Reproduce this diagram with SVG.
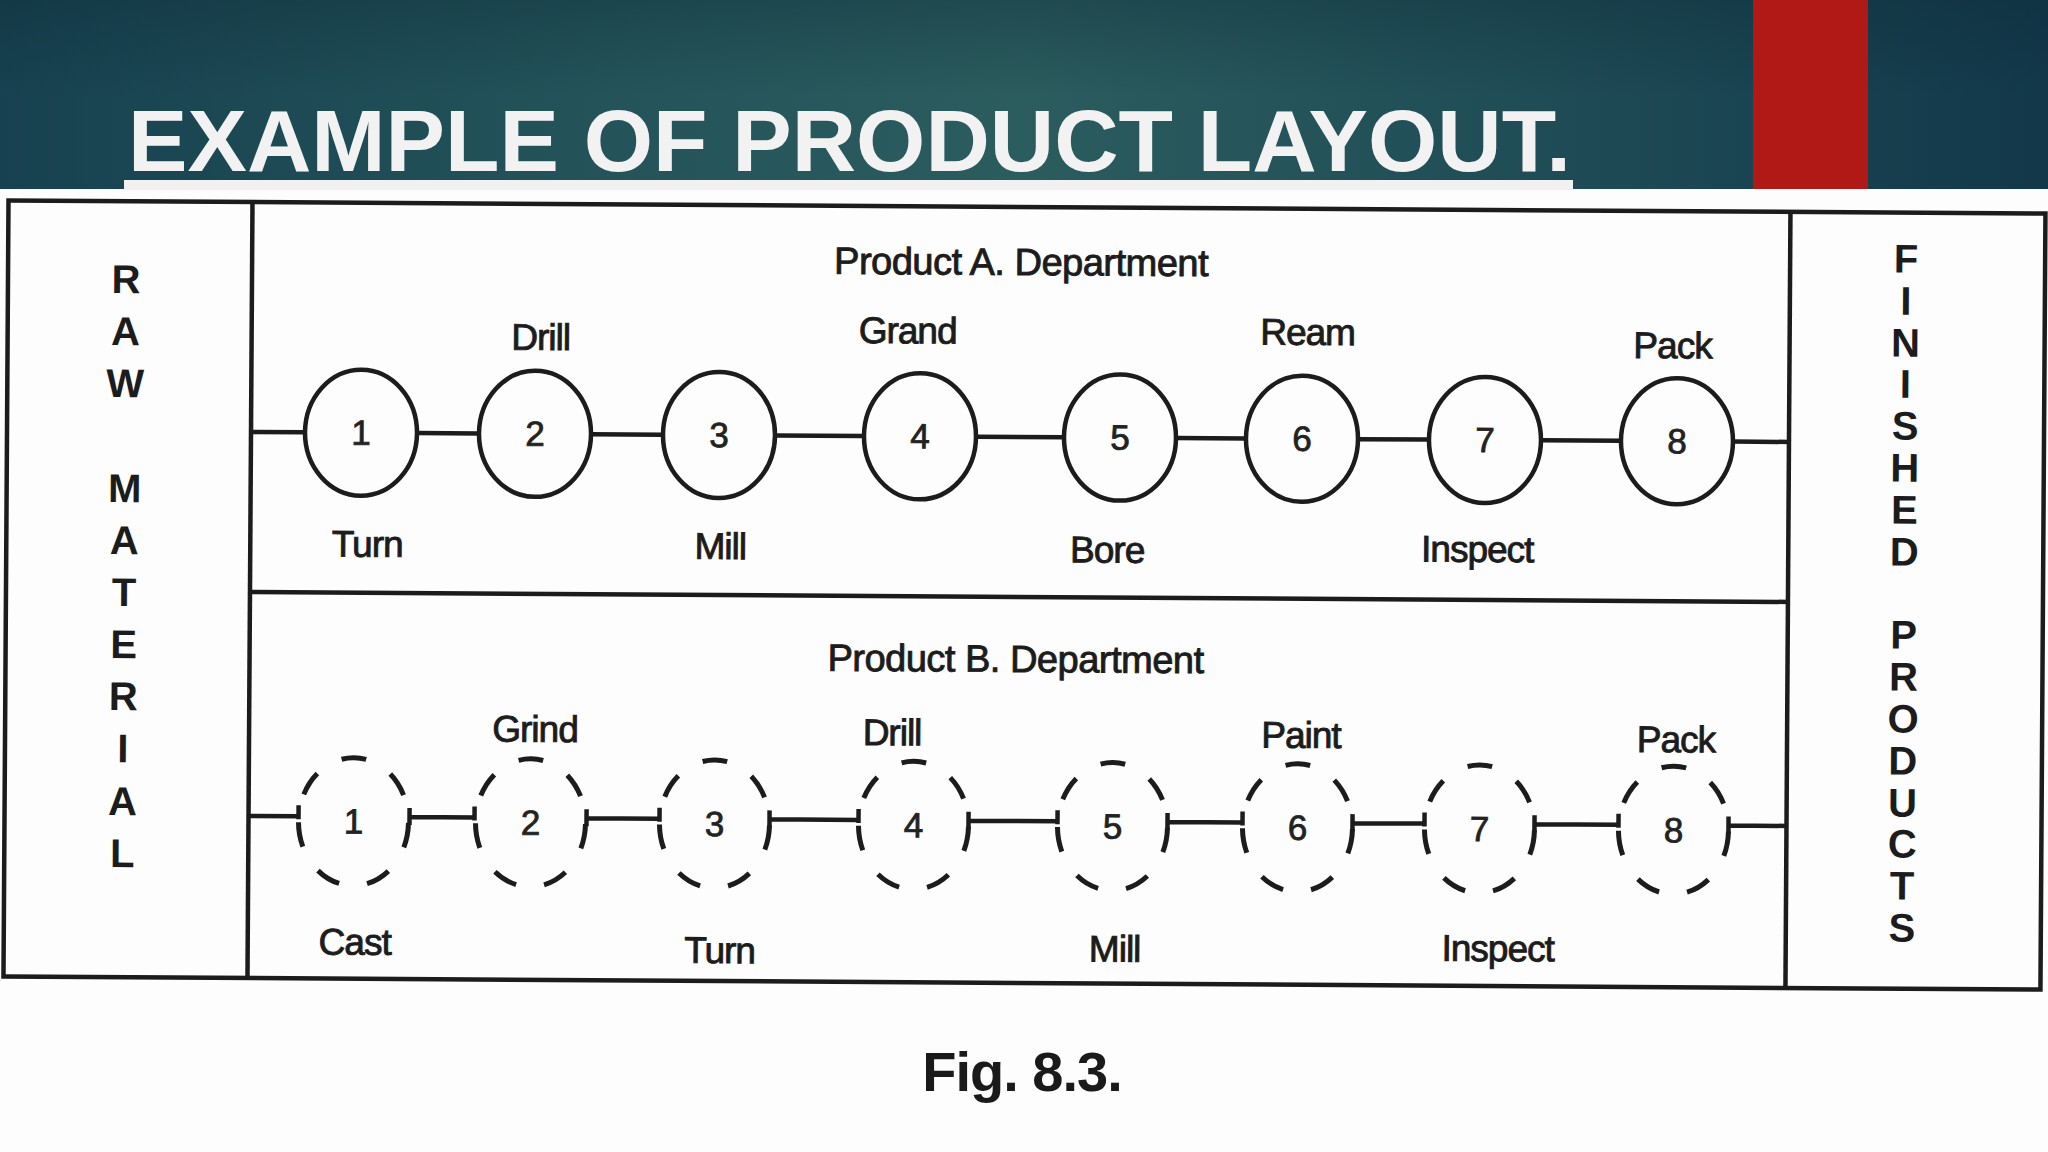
<svg xmlns="http://www.w3.org/2000/svg" width="2048" height="1152" viewBox="0 0 2048 1152">
  <defs>
    <linearGradient id="hdr" x1="0" y1="0" x2="1" y2="0">
      <stop offset="0" stop-color="#174150"/>
      <stop offset="0.3" stop-color="#24545a"/>
      <stop offset="0.5" stop-color="#2b5c5e"/>
      <stop offset="0.75" stop-color="#1f4c56"/>
      <stop offset="1" stop-color="#12384a"/>
    </linearGradient>
    <linearGradient id="hdrV" x1="0" y1="0" x2="0" y2="1">
      <stop offset="0" stop-color="#0c2a36" stop-opacity="0.35"/>
      <stop offset="0.5" stop-color="#0c2a36" stop-opacity="0"/>
    </linearGradient>
    <style>
      .ln{stroke:#1c1c1c;stroke-width:4.5;fill:none}
      .sA{stroke:#1c1c1c;stroke-width:4.5;fill:none}
      .sB{stroke:#1c1c1c;stroke-width:5;fill:none;stroke-dasharray:24 27.43;stroke-dashoffset:50.57}
      .num{font-family:"Liberation Sans",Arial,sans-serif;font-size:35px;fill:#222;stroke:#222;stroke-width:0.8;text-anchor:middle}
      .lbl{font-family:"Liberation Sans",Arial,sans-serif;font-size:37px;fill:#1c1c1c;stroke:#1c1c1c;stroke-width:0.9;text-anchor:middle;letter-spacing:-1px}
      .dep{font-family:"Liberation Sans",Arial,sans-serif;font-size:38px;fill:#1c1c1c;stroke:#1c1c1c;stroke-width:0.9;text-anchor:middle;letter-spacing:-0.5px}
      .vert{font-family:"Liberation Sans",Arial,sans-serif;font-size:40px;font-weight:bold;fill:#1c1c1c;text-anchor:middle}
    </style>
  </defs>

  <rect x="0" y="0" width="2048" height="1152" fill="#fdfdfd"/>

  <!-- header -->
  <g id="header">
    <rect x="0" y="0" width="2048" height="189" fill="url(#hdr)"/>
    <rect x="0" y="0" width="2048" height="189" fill="url(#hdrV)"/>
    <rect x="1753" y="0" width="115" height="189" fill="#b01916"/>
    <rect x="124" y="180" width="1449" height="10" fill="#f1f1f1"/>
    <text x="128" y="171" font-family="'Liberation Sans',Arial,sans-serif" font-size="88" font-weight="bold" fill="#f2f2f2" textLength="1443" lengthAdjust="spacingAndGlyphs">EXAMPLE OF PRODUCT LAYOUT.</text>
  </g>

  <g id="diagram" transform="rotate(0.37 1024 590)">
    <!-- frame -->
    <g id="frame">
      <rect class="ln" x="6" y="207" width="2037" height="776" stroke-width="5"/>
      <line class="ln" x1="250" y1="207" x2="250" y2="983"/>
      <line class="ln" x1="1788" y1="207" x2="1788" y2="983"/>
      <line class="ln" x1="250" y1="597" x2="1788" y2="597" stroke-width="5"/>
    </g>

    <g id="raw-material">
      <text class="vert"><tspan x="124" y="299">R</tspan><tspan x="124" y="351">A</tspan><tspan x="124" y="403">W</tspan><tspan x="124" y="508">M</tspan><tspan x="124" y="560">A</tspan><tspan x="124" y="612">T</tspan><tspan x="124" y="664">E</tspan><tspan x="124" y="716">R</tspan><tspan x="124" y="768">I</tspan><tspan x="124" y="821">A</tspan><tspan x="124" y="873">L</tspan></text>
    </g>

    <g id="finished-products">
      <text class="vert"><tspan x="1904" y="267">F</tspan><tspan x="1904" y="309">I</tspan><tspan x="1904" y="351">N</tspan><tspan x="1904" y="392">I</tspan><tspan x="1904" y="434">S</tspan><tspan x="1904" y="476">H</tspan><tspan x="1904" y="518">E</tspan><tspan x="1904" y="560">D</tspan><tspan x="1904" y="643">P</tspan><tspan x="1904" y="685">R</tspan><tspan x="1904" y="727">O</tspan><tspan x="1904" y="769">D</tspan><tspan x="1904" y="811">U</tspan><tspan x="1904" y="852">C</tspan><tspan x="1904" y="894">T</tspan><tspan x="1904" y="936">S</tspan></text>
    </g>

    <text class="dep" x="1019" y="275">Product A. Department</text>
    <text class="dep" x="1016" y="672">Product B. Department</text>

    <!-- connectors -->
    <g id="connectors">
      <g id="lineA" class="ln" stroke-width="5">
        <line x1="250" y1="437" x2="304" y2="437"/>
        <line x1="416" y1="437" x2="478" y2="437"/>
        <line x1="590" y1="437" x2="662" y2="437"/>
        <line x1="774" y1="437" x2="863" y2="437"/>
        <line x1="975" y1="437" x2="1063" y2="437"/>
        <line x1="1175" y1="437" x2="1245" y2="437"/>
        <line x1="1357" y1="437" x2="1428" y2="437"/>
        <line x1="1540" y1="437" x2="1620" y2="437"/>
        <line x1="1732" y1="437" x2="1788" y2="437"/>
      </g>
      <g id="lineB" class="ln" stroke-width="4.5">
        <path d="M250 821H300M300 810V824"/>
        <path d="M411 812V829M411 821H476M476 810V824"/>
        <path d="M588 812V829M588 821H661M661 810V824"/>
        <path d="M771 812V829M771 821H860M860 810V824"/>
        <path d="M970 812V829M970 821H1059M1059 810V824"/>
        <path d="M1169 812V829M1169 821H1244M1244 810V824"/>
        <path d="M1354 812V829M1354 821H1426M1426 810V824"/>
        <path d="M1536 812V829M1536 821H1620M1620 810V824"/>
        <path d="M1730 812V829M1730 821H1788"/>
      </g>
    </g>

    <!-- Product A nodes -->
    <g id="A1"><ellipse class="sA" cx="360" cy="437" rx="56" ry="63"/><text class="num" x="360" y="449">1</text><text class="lbl" x="367" y="561">Turn</text></g>
    <g id="A2"><ellipse class="sA" cx="534" cy="437" rx="56" ry="63"/><text class="num" x="534" y="449">2</text><text class="lbl" x="539" y="353">Drill</text></g>
    <g id="A3"><ellipse class="sA" cx="718" cy="437" rx="56" ry="63"/><text class="num" x="718" y="449">3</text><text class="lbl" x="720" y="561">Mill</text></g>
    <g id="A4"><ellipse class="sA" cx="919" cy="437" rx="56" ry="63"/><text class="num" x="919" y="449">4</text><text class="lbl" x="906" y="344">Grand</text></g>
    <g id="A5"><ellipse class="sA" cx="1119" cy="437" rx="56" ry="63"/><text class="num" x="1119" y="449">5</text><text class="lbl" x="1107" y="562">Bore</text></g>
    <g id="A6"><ellipse class="sA" cx="1301" cy="437" rx="56" ry="63"/><text class="num" x="1301" y="449">6</text><text class="lbl" x="1306" y="343">Ream</text></g>
    <g id="A7"><ellipse class="sA" cx="1484" cy="437" rx="56" ry="63"/><text class="num" x="1484" y="449">7</text><text class="lbl" x="1477" y="559">Inspect</text></g>
    <g id="A8"><ellipse class="sA" cx="1676" cy="437" rx="56" ry="63"/><text class="num" x="1676" y="449">8</text><text class="lbl" x="1671" y="354">Pack</text></g>

    <!-- Product B nodes -->
    <g id="B1"><ellipse class="sB" pathLength="360" cx="355" cy="826" rx="55" ry="64"/><text class="num" x="355" y="838">1</text><text class="lbl" x="357" y="959">Cast</text></g>
    <g id="B2"><ellipse class="sB" pathLength="360" cx="532" cy="826" rx="55" ry="64"/><text class="num" x="532" y="838">2</text><text class="lbl" x="536" y="745">Grind</text></g>
    <g id="B3"><ellipse class="sB" pathLength="360" cx="716" cy="826" rx="55" ry="64"/><text class="num" x="716" y="838">3</text><text class="lbl" x="722" y="965">Turn</text></g>
    <g id="B4"><ellipse class="sB" pathLength="360" cx="915" cy="826" rx="55" ry="64"/><text class="num" x="915" y="838">4</text><text class="lbl" x="893" y="746">Drill</text></g>
    <g id="B5"><ellipse class="sB" pathLength="360" cx="1114" cy="826" rx="55" ry="64"/><text class="num" x="1114" y="838">5</text><text class="lbl" x="1117" y="961">Mill</text></g>
    <g id="B6"><ellipse class="sB" pathLength="360" cx="1299" cy="826" rx="55" ry="64"/><text class="num" x="1299" y="838">6</text><text class="lbl" x="1302" y="746">Paint</text></g>
    <g id="B7"><ellipse class="sB" pathLength="360" cx="1481" cy="826" rx="55" ry="64"/><text class="num" x="1481" y="838">7</text><text class="lbl" x="1500" y="958">Inspect</text></g>
    <g id="B8"><ellipse class="sB" pathLength="360" cx="1675" cy="826" rx="55" ry="64"/><text class="num" x="1675" y="838">8</text><text class="lbl" x="1677" y="748">Pack</text></g>
  </g>

  <text id="caption" x="1022" y="1091" font-family="'Liberation Sans',Arial,sans-serif" font-size="56" font-weight="bold" fill="#1a1a1a" text-anchor="middle" letter-spacing="-1">Fig. 8.3.</text>
</svg>
